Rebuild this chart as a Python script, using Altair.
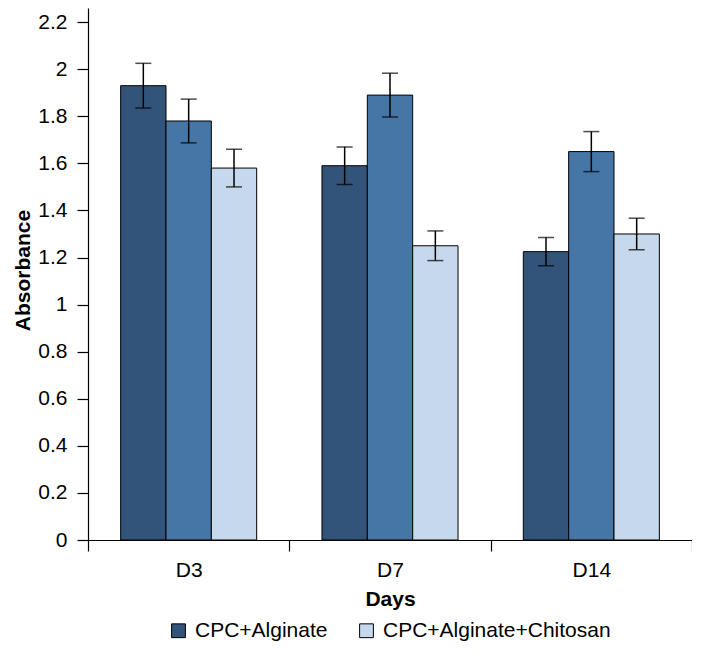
import altair as alt
import pandas as pd

days = ["D3", "D7", "D14"]
series = ["CPC+Alginate", "CPC", "CPC+Alginate+Chitosan"]
legend_items = ["CPC+Alginate", "CPC+Alginate+Chitosan"]
colors = ["#33547a", "#4676a5", "#c6d8ec"]

vals_cpc_alg = [1.93, 1.59, 1.225]
vals_cpc = [1.78, 1.89, 1.65]
vals_cpc_alg_chi = [1.58, 1.25, 1.30]

err_cpc_alg = [0.095, 0.08, 0.06]
err_cpc = [0.093, 0.093, 0.085]
err_cpc_alg_chi = [0.08, 0.063, 0.067]

y_ticks = [round(i * 0.2, 1) for i in range(12)]

rows = []
for s, vals, errs in zip(series, [vals_cpc_alg, vals_cpc, vals_cpc_alg_chi],
                         [err_cpc_alg, err_cpc, err_cpc_alg_chi]):
    for d, v, e in zip(days, vals, errs):
        rows.append({"day": d, "series": s, "value": v, "lo": v - e, "hi": v + e})
df = pd.DataFrame(rows)

FONT = "Liberation Sans"
FS = 21

x_enc = alt.X("day:N", sort=days, title="Days",
              scale=alt.Scale(paddingInner=0, paddingOuter=0),
              axis=alt.Axis(tickBand="extent", labelAngle=0, labelFontSize=FS,
                            labelPadding=8, titleFontSize=21, titleFontWeight="bold",
                            titlePadding=8, tickSize=11))
xo_enc = alt.XOffset("series:N", sort=series,
                     scale=alt.Scale(paddingOuter=0.72, paddingInner=0))

base = alt.Chart(df)

bars = base.mark_bar(stroke="black", strokeWidth=1).encode(
    x=x_enc,
    xOffset=xo_enc,
    y=alt.Y("value:Q", title="Absorbance",
            scale=alt.Scale(domain=[0, 2.26], nice=False),
            axis=alt.Axis(values=y_ticks, format="~g", labelFontSize=FS,
                          titleFontSize=21, titleFontWeight="bold", tickSize=11,
                          labelPadding=10, titleX=-55, titleY=262)),
    color=alt.Color("series:N", sort=series,
                    scale=alt.Scale(domain=series, range=colors),
                    legend=alt.Legend(values=legend_items, orient="none",
                                      direction="horizontal", legendX=80, legendY=612,
                                      title=None, labelFontSize=FS, symbolType="square",
                                      symbolSize=190, symbolStrokeColor="black",
                                      symbolStrokeWidth=1, labelOffset=6, labelLimit=400,
                                      columnPadding=28, padding=0)),
)

rules = base.mark_rule(color="black", strokeWidth=1.5).encode(
    x=alt.X("day:N", sort=days), xOffset=xo_enc,
    y="lo:Q", y2="hi:Q",
)

caps_hi = base.mark_tick(color="black", thickness=1.5, size=16).encode(
    x=alt.X("day:N", sort=days), xOffset=xo_enc, y="hi:Q",
)
caps_lo = base.mark_tick(color="black", thickness=1.5, size=16).encode(
    x=alt.X("day:N", sort=days), xOffset=xo_enc, y="lo:Q",
)

chart = alt.layer(bars, rules, caps_hi, caps_lo).properties(
    width=604, height=532,
    autosize=alt.AutoSizeParams(type="none"),
    padding={"left": 80, "top": 0, "right": 0, "bottom": 104},
).configure_view(stroke=None).configure_axis(
    grid=False, domainColor="black", tickColor="black", labelColor="black",
    titleColor="black", labelFont=FONT, titleFont=FONT, domainWidth=1.2, tickWidth=1.2,
).configure_legend(labelFont=FONT, labelColor="black")

chart.save("out.html", embed_options={"renderer": "svg", "actions": False})
